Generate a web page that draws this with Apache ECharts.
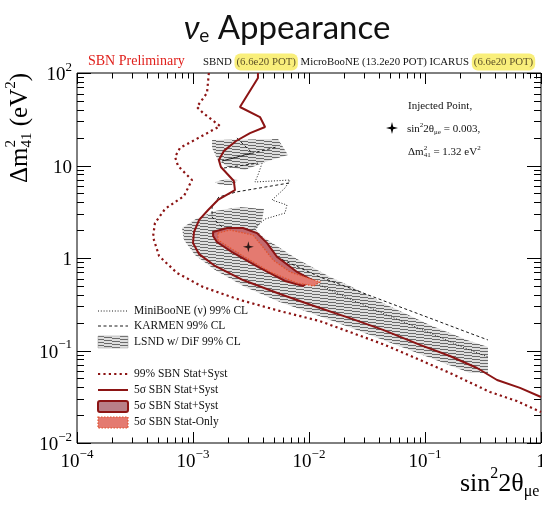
<!DOCTYPE html>
<html>
<head>
<meta charset="utf-8">
<script src="https://cdn.jsdelivr.net/npm/echarts@6/dist/echarts.min.js"></script>
<style>
  html, body { margin: 0; padding: 0; background: #fff; }
  #chart { width: 542px; height: 505px; }
</style>
</head>
<body>
<div id="chart"></div>
<script>
// ---- Data: contours in (sin^2 2theta_mue, dm^2_41 [eV^2]) ----
const injectedPoint = [0.003, 1.32];

// SBN 5 sigma Stat+Syst exclusion line
const sbn5SigmaLine = [[3.63e-3,100],[3.63e-3,88.3],[2.54e-3,42.9],[3.78e-3,33.4],[4.18e-3,26.1],[3.10e-3,22.4],[2.35e-3,18.4],[1.85e-3,14.4],[1.67e-3,11.5],[1.74e-3,9.63],[2.25e-3,6.79],[2.30e-3,5.43],[1.64e-3,4.24],[1.35e-3,3.30],[1.13e-3,2.58],[1.02e-3,1.91],[1.0e-3,1.45],[1.13e-3,1.10],[1.55e-3,0.820],[2.70e-3,0.578],[5.62e-3,0.408],[1.17e-2,0.295],[2.25e-2,0.224],[4.35e-2,0.167],[9.06e-2,0.115],[0.164,0.0872],[0.281,0.0647],[0.418,0.0480],[0.659,0.0394],[1.0,0.0314]];

// SBN 99% Stat+Syst line
const sbn99Line = [[1.37e-3,100],[1.32e-3,60.8],[1.08e-3,42.9],[1.22e-3,37.0],[1.71e-3,26.7],[1.15e-3,20.3],[7.73e-4,15.5],[7.00e-4,12.4],[7.43e-4,9.88],[9.80e-4,6.97],[8.36e-4,4.68],[5.74e-4,3.39],[4.70e-4,2.39],[4.52e-4,1.69],[5.10e-4,1.05],[7.28e-4,0.689],[1.22e-3,0.486],[2.54e-3,0.352],[5.62e-3,0.267],[1.24e-2,0.208],[4.35e-2,0.117],[9.06e-2,0.0789],[0.164,0.0571],[0.363,0.0356],[0.621,0.0284],[1.0,0.0216]];

// LSND w/ DiF 99% CL allowed islands
const lsndUpper = [[1.46e-3,18.9],[5.41e-3,19.3],[6.59e-3,13.0],[4.18e-3,10.9],[2.81e-3,8.94],[2.00e-3,9.63],[1.64e-3,11.5],[1.46e-3,15.5]];
const lsndMiddle = [[1.55e-3,6.63],[1.92e-3,7.15],[2.44e-3,6.97],[2.21e-3,6.15],[1.71e-3,6.15]];
const lsndLower = [[8.04e-4,2.11],[1.06e-3,2.64],[1.55e-3,3.22],[2.54e-3,3.56],[4.09e-3,3.39],[3.94e-3,2.58],[3.49e-3,2.01],[4.01e-3,1.69],[7.89e-3,0.976],[1.52e-2,0.623],[2.25e-2,0.498],[4.70e-2,0.310],[0.110,0.189],[0.230,0.130],[0.349,0.109],[0.349,0.0571],[0.244,0.0571],[9.06e-2,0.0917],[3.36e-2,0.147],[1.52e-2,0.214],[5.62e-3,0.334],[2.81e-3,0.486],[1.55e-3,0.742],[1.04e-3,1.08],[8.36e-4,1.57]];

// KARMEN 99% CL (three pieces)
const karmenTop = [[2.39e-3,19.8],[3.23e-3,13.7],[1.78e-3,11.2],[5.20e-3,15.8]];
const karmenMid = [[1.85e-3,9.40],[3.63e-3,10.6]];
const karmenLow = [[6.73e-3,6.47],[2.35e-3,5.17],[1.67e-3,4.56],[1.46e-3,3.56],[1.46e-3,2.77],[1.78e-3,2.16],[3.10e-3,1.53],[5.97e-3,0.951],[1.24e-2,0.623],[2.25e-2,0.474],[4.70e-2,0.334],[0.110,0.224],[0.230,0.158],[0.349,0.130]];

// MiniBooNE (nu) 99% CL
const miniboone = [[3.94e-3,10.6],[3.63e-3,7.89],[3.42e-3,6.63],[6.86e-3,6.97],[6.21e-3,5.71],[4.80e-3,4.24],[6.45e-3,3.74],[6.21e-3,3.06],[4.18e-3,2.64],[3.10e-3,1.91],[4.62e-3,1.08],[6.86e-3,0.780],[1.24e-2,0.511],[2.25e-2,0.360],[4.70e-2,0.242],[0.110,0.155],[0.230,0.104],[0.349,0.0851]];

// SBN 5 sigma allowed regions around the injected point
const statSystRegion = [[1.49e-3,1.91],[1.96e-3,2.11],[2.70e-3,2.11],[3.56e-3,1.86],[4.35e-3,1.45],[5.30e-3,1.03],[7.89e-3,0.706],[1.06e-2,0.578],[8.87e-3,0.498],[6.21e-3,0.564],[3.63e-3,0.800],[2.17e-3,1.16],[1.61e-3,1.49],[1.49e-3,1.73]];
const statOnlyRegion = [[1.64e-3,1.86],[2.08e-3,2.01],[3.29e-3,1.77],[4.01e-3,1.31],[4.90e-3,0.951],[6.86e-3,0.706],[1.24e-2,0.551],[1.10e-2,0.498],[7.89e-3,0.537],[4.62e-3,0.706],[2.70e-3,1.05],[1.96e-3,1.35],[1.64e-3,1.57]];

// Axis ranges
const X_MIN = 1e-4, X_MAX = 1, Y_MIN = 1e-2, Y_MAX = 100;

// ---- Styling ----
const SERIF = '"Liberation Serif", "DejaVu Serif", serif';
const DARK_RED = '#8c1414';
const SYST_FILL = '#c4696e';
const STAT_FILL = '#e47a70';
const STAT_EDGE = '#e2522c';

// Hatch pattern for the LSND region: thin slanted lines, 3px apart
function makeHatch() {
  const c = document.createElement('canvas');
  c.width = 24; c.height = 3;
  const g = c.getContext('2d');
  g.fillStyle = '#dedede';
  g.fillRect(0, 0, 24, 3);
  g.fillStyle = '#6a6a6a';
  for (let x = 0; x < 24; x++) g.fillRect(x, Math.floor(x / 8) % 3, 1, 1);
  return c;
}
const hatch = { image: makeHatch(), repeat: 'repeat' };

// Text with super/subscripts laid out piece by piece
const mctx = document.createElement('canvas').getContext('2d');
function measure(t, size, italic) {
  mctx.font = (italic ? 'italic ' : '') + size + 'px ' + SERIF;
  return mctx.measureText(t).width;
}
function formula(pieces, color, anchor) {
  let x = 0, lastX = 0;
  const items = [];
  pieces.forEach(p => {
    const px = p.stack ? lastX : x;
    const w = measure(p.t, p.size, p.italic);
    items.push({ px, p });
    lastX = px;
    x = Math.max(x, px + w);
  });
  const off = anchor === 'center' ? -x / 2 : anchor === 'right' ? -x : 0;
  return items.map(({ px, p }) => ({
    type: 'text', x: px + off, y: p.dy || 0, silent: true,
    style: {
      text: p.t, fontSize: p.size, fontFamily: SERIF, fontStyle: p.italic ? 'italic' : 'normal',
      fill: color, align: 'left', verticalAlign: 'middle', textAlign: 'left', textVerticalAlign: 'middle'
    }
  }));
}

// Four-pointed star outline around a centre
function starPoints(cx, cy, r, w) {
  return [[cx, cy - r], [cx + w, cy - w], [cx + r, cy], [cx + w, cy + w], [cx, cy + r], [cx - w, cy + w], [cx - r, cy], [cx - w, cy - w]];
}

// Tick values (log minor ticks)
const xTicks = [];
for (let e = -4; e < 0; e++) for (let m = 1; m <= 9; m++) xTicks.push([m * Math.pow(10, e), 1, m === 1 ? 1 : 0]);
xTicks.push([1, 1, 1]);
const yTicks = [];
for (let e = -2; e < 2; e++) for (let m = 1; m <= 9; m++) yTicks.push([1e-3, m * Math.pow(10, e), m === 1 ? 1 : 0]);
yTicks.push([1e-3, 100, 1]);

function powLabel(v) {
  const e = Math.round(Math.log10(v));
  if (e === 0) return '{b|1}';
  if (e === 1) return '{b|10}';
  return '{b|10}{s|' + (e < 0 ? '\u2212' : '') + Math.abs(e) + '}';
}
const labelRich = {
  b: { fontSize: 19, fontFamily: SERIF, color: '#000', lineHeight: 24, verticalAlign: 'bottom' },
  s: { fontSize: 13, fontFamily: SERIF, color: '#000', lineHeight: 10, verticalAlign: 'top' }
};

function polygonSeries(name, pts, style, z) {
  return {
    type: 'custom', name, coordinateSystem: 'cartesian2d', z, silent: true, clip: true,
    encode: { x: 0, y: 1 },
    data: [pts[0]],
    renderItem: (params, api) => ({
      type: 'polygon',
      shape: { points: pts.map(p => api.coord(p)) },
      style
    })
  };
}
function lineSeries(name, pts, color, width, type, z) {
  return {
    type: 'line', name, data: pts, z, silent: true, showSymbol: false, symbol: 'none',
    lineStyle: { color, width, type, cap: 'butt' }, clip: true
  };
}
const crisp = v => Math.round(v) + 0.5;

const chart = echarts.init(document.getElementById('chart'), null, { renderer: 'canvas' });

const star = 'path://M0,-6 L1.2,-1.2 L6,0 L1.2,1.2 L0,6 L-1.2,1.2 L-6,0 L-1.2,-1.2 Z';

const legendY = { mb: 311, km: 326, lsnd: 342, s99: 374, s5: 390, sys: 406, stat: 422 };
const legendText = (y, t) => ({
  type: 'text', x: 134, y, silent: true,
  style: { text: t, fontSize: 11.5, fontFamily: SERIF, fill: '#111', align: 'left', verticalAlign: 'middle', textAlign: 'left', textVerticalAlign: 'middle' }
});

const option = {
  animation: false,
  backgroundColor: '#fff',
  grid: {
    left: 77, right: 1, top: 73, bottom: 62, containLabel: false, outerBoundsMode: 'none',
    show: true, borderColor: '#000', borderWidth: 1, backgroundColor: 'transparent'
  },
  xAxis: {
    type: 'log', logBase: 10, min: X_MIN, max: X_MAX,
    axisLine: { show: false }, axisTick: { show: false }, splitLine: { show: false }, minorTick: { show: false },
    axisLabel: { margin: 5, formatter: powLabel, rich: labelRich, showMinLabel: true, showMaxLabel: true }
  },
  yAxis: {
    type: 'log', logBase: 10, min: Y_MIN, max: Y_MAX,
    axisLine: { show: false }, axisTick: { show: false }, splitLine: { show: false },
    axisLabel: { margin: 5, formatter: powLabel, rich: labelRich, showMinLabel: true, showMaxLabel: true }
  },
  series: [
    polygonSeries('LSND upper', lsndUpper, { fill: hatch }, 1),
    polygonSeries('LSND middle', lsndMiddle, { fill: hatch }, 1),
    polygonSeries('LSND lower', lsndLower, { fill: hatch }, 1),
    lineSeries('KARMEN a', karmenTop, '#1a1a1a', 1, [3, 2.5], 2),
    lineSeries('KARMEN b', karmenMid, '#1a1a1a', 1, [3, 2.5], 2),
    lineSeries('KARMEN c', karmenLow, '#1a1a1a', 1, [3, 2.5], 2),
    lineSeries('MiniBooNE', miniboone, '#1a1a1a', 1, [1, 1.8], 2),
    polygonSeries('5s Stat+Syst region', statSystRegion, { fill: SYST_FILL, stroke: DARK_RED, lineWidth: 2 }, 3),
    polygonSeries('5s Stat-only region', statOnlyRegion, { fill: STAT_FILL, stroke: STAT_EDGE, lineWidth: 1.3, lineDash: [1.5, 1.5] }, 3),
    lineSeries('99% SBN', sbn99Line, DARK_RED, 2.2, [2.2, 3.2], 4),
    lineSeries('5s SBN', sbn5SigmaLine, DARK_RED, 2, 'solid', 4),
    {
      type: 'scatter', name: 'Injected point', data: [injectedPoint], z: 5, silent: true,
      symbol: star, symbolSize: 11, itemStyle: { color: '#000' }
    },
    {
      type: 'custom', name: 'x ticks', coordinateSystem: 'cartesian2d', z: 6, silent: true, clip: false,
      encode: { x: 0, y: 1 }, data: xTicks,
      renderItem: (params, api) => {
        const v = api.value(0), major = api.value(2);
        const b = api.coord([v, Y_MIN]), t = api.coord([v, Y_MAX]);
        const L = major ? 11 : 5.5, x = crisp(b[0]);
        const st = { stroke: '#000', lineWidth: 1 };
        return { type: 'group', children: [
          { type: 'line', shape: { x1: x, y1: b[1], x2: x, y2: b[1] - L }, style: st },
          { type: 'line', shape: { x1: x, y1: t[1], x2: x, y2: t[1] + L }, style: st }
        ] };
      }
    },
    {
      type: 'custom', name: 'y ticks', coordinateSystem: 'cartesian2d', z: 6, silent: true, clip: false,
      encode: { x: 0, y: 1 }, data: yTicks,
      renderItem: (params, api) => {
        const v = api.value(1), major = api.value(2);
        const l = api.coord([X_MIN, v]), r = api.coord([X_MAX, v]);
        const L = major ? 14 : 7, y = crisp(l[1]);
        const st = { stroke: '#000', lineWidth: 1 };
        return { type: 'group', children: [
          { type: 'line', shape: { x1: l[0], y1: y, x2: l[0] + L, y2: y }, style: st },
          { type: 'line', shape: { x1: r[0], y1: y, x2: r[0] - L, y2: y }, style: st }
        ] };
      }
    }
  ],
  graphic: [
    // Title
    {
      type: 'text', x: 287, y: 26, silent: true,
      style: {
        text: '{nu|\u03BD}{sub|e}{t| Appearance}',
        align: 'center', verticalAlign: 'middle', textAlign: 'center', textVerticalAlign: 'middle',
        rich: {
          nu: { fontSize: 33, fontFamily: 'Lato, "Noto Sans", sans-serif', fontStyle: 'italic', fill: '#111', lineHeight: 38, verticalAlign: 'bottom' },
          sub: { fontSize: 19, fontFamily: 'Lato, "Noto Sans", sans-serif', fill: '#111', lineHeight: 19, verticalAlign: 'bottom' },
          t: { fontSize: 33, fontFamily: 'Lato, "Noto Sans", sans-serif', fill: '#111', lineHeight: 38, verticalAlign: 'bottom' }
        }
      }
    },
    // Header
    {
      type: 'text', x: 88, y: 61, silent: true,
      style: { text: 'SBN Preliminary', fontSize: 14, fontFamily: SERIF, fill: '#e0201c', align: 'left', verticalAlign: 'middle', textAlign: 'left', textVerticalAlign: 'middle' }
    },
    {
      type: 'text', x: 203, y: 62, silent: true,
      style: {
        text: '{n|SBND }{h|(6.6e20 POT)}{n| MicroBooNE (13.2e20 POT) ICARUS }{h|(6.6e20 POT)}',
        align: 'left', verticalAlign: 'middle', textAlign: 'left', textVerticalAlign: 'middle',
        rich: {
          n: { fontSize: 10.8, fontFamily: SERIF, fill: '#111', lineHeight: 17 },
          h: { fontSize: 10.8, fontFamily: SERIF, fill: '#5e5228', lineHeight: 11, backgroundColor: 'rgba(248,236,100,0.85)', borderRadius: 6, padding: [3, 2, 3, 2] }
        }
      }
    },
    // Y axis title
    {
      type: 'group', x: 20, y: 183, rotation: Math.PI / 2, silent: true,
      children: formula([
        { t: '\u0394m', size: 25 },
        { t: '2', size: 15, dy: -9 },
        { t: '41', size: 15, dy: 7, stack: true },
        { t: ' (eV', size: 25 },
        { t: '2', size: 15, dy: -9 },
        { t: ')', size: 25 }
      ], '#000', 'left')
    },
    // X axis title
    {
      type: 'group', x: 460, y: 484, silent: true,
      children: formula([
        { t: 'sin', size: 26 },
        { t: '2', size: 16, dy: -10 },
        { t: '2\u03B8', size: 26 },
        { t: '\u03BCe', size: 16, dy: 8 }
      ], '#000', 'left')
    },
    // Injected point annotation
    {
      type: 'text', x: 408, y: 106, silent: true,
      style: { text: 'Injected Point,', fontSize: 11, fontFamily: SERIF, fill: '#111', align: 'left', verticalAlign: 'middle', textAlign: 'left', textVerticalAlign: 'middle' }
    },
    { type: 'polygon', silent: true, shape: { points: starPoints(392, 128, 6, 1.2) }, style: { fill: '#000' } },
    {
      type: 'group', x: 407, y: 129, silent: true,
      children: formula([
        { t: 'sin', size: 11 },
        { t: '2', size: 7, dy: -4 },
        { t: '2\u03B8', size: 11 },
        { t: '\u03BCe', size: 7, dy: 3 },
        { t: ' = 0.003,', size: 11 }
      ], '#111', 'left')
    },
    {
      type: 'group', x: 408, y: 152, silent: true,
      children: formula([
        { t: '\u0394m', size: 11 },
        { t: '2', size: 7, dy: -4 },
        { t: '41', size: 7, dy: 3, stack: true },
        { t: ' = 1.32 eV', size: 11 },
        { t: '2', size: 7, dy: -4 }
      ], '#111', 'left')
    },
    // Legend samples
    { type: 'line', silent: true, shape: { x1: 98, y1: legendY.mb, x2: 128, y2: legendY.mb }, style: { stroke: '#1a1a1a', lineWidth: 1, lineDash: [1, 1.8] } },
    { type: 'line', silent: true, shape: { x1: 98, y1: legendY.km, x2: 128, y2: legendY.km }, style: { stroke: '#1a1a1a', lineWidth: 1, lineDash: [3, 2.5] } },
    { type: 'rect', silent: true, shape: { x: 98, y: 336, width: 30, height: 12 }, style: { fill: hatch, stroke: '#999', lineWidth: 0.5 } },
    { type: 'line', silent: true, shape: { x1: 98, y1: legendY.s99, x2: 128, y2: legendY.s99 }, style: { stroke: DARK_RED, lineWidth: 2.2, lineDash: [2.2, 3.2] } },
    { type: 'line', silent: true, shape: { x1: 98, y1: legendY.s5, x2: 128, y2: legendY.s5 }, style: { stroke: DARK_RED, lineWidth: 2 } },
    { type: 'rect', silent: true, shape: { x: 98, y: 401, width: 30, height: 11, r: 2 }, style: { fill: '#b98088', stroke: DARK_RED, lineWidth: 2 } },
    { type: 'rect', silent: true, shape: { x: 98, y: 417, width: 30, height: 11 }, style: { fill: STAT_FILL, stroke: STAT_EDGE, lineWidth: 1.2, lineDash: [1.5, 1.5] } },
    legendText(legendY.mb, 'MiniBooNE (\u03BD) 99% CL'),
    legendText(legendY.km, 'KARMEN 99% CL'),
    legendText(legendY.lsnd, 'LSND w/ DiF 99% CL'),
    legendText(legendY.s99, '99% SBN Stat+Syst'),
    legendText(legendY.s5, '5\u03C3 SBN Stat+Syst'),
    legendText(legendY.sys, '5\u03C3 SBN Stat+Syst'),
    legendText(legendY.stat, '5\u03C3 SBN Stat-Only')
  ]
};

chart.setOption(option);
</script>
</body>
</html>
